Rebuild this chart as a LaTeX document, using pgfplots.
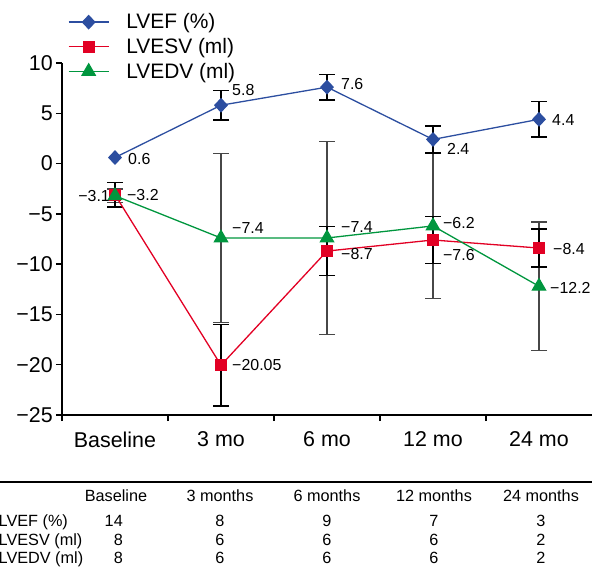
\documentclass[border=0pt]{standalone}
\usepackage{fontspec}
\setmainfont{Liberation Sans}
\usepackage{pgfplots}
\pgfplotsset{compat=1.18}

\definecolor{efblue}{RGB}{44,78,160}
\definecolor{esred}{RGB}{226,0,36}
\definecolor{edgreen}{RGB}{0,150,62}
\newcommand{\lbl}{\fontsize{16}{18}\selectfont}
\newcommand{\tab}{\fontsize{16.3}{18}\selectfont}

\pgfplotsset{
  ebar/.style={draw=none, mark=none, forget plot,
    error bars/.cd, y dir=both, y explicit,
    error bar style={line width=1.5bp, draw=#1},
    error mark options={rotate=90, mark size=8bp, line width=1.5bp, draw=#1}},
}

\begin{document}
\begin{tikzpicture}
\useasboundingbox (0,0) rectangle (592bp,569bp);
\begin{axis}[
  at={(62bp,154bp)}, anchor=south west,
  scale only axis, width=530bp, height=352bp,
  xmin=-0.5, xmax=4.5, ymin=-25, ymax=10,
  clip=false,
  axis x line=bottom, axis y line=left,
  axis line style={-, line width=1.3bp},
  tick align=outside, major tick length=6bp,
  tick style={line width=1.3bp, black},
  ytick={-25,-20,...,10},
  yticklabels={−25,−20,−15,−10,−5,0,5,10},
  xtick={-0.5,0.5,1.5,2.5,3.5},
  xticklabels={},
  extra x ticks={0,1,2,3,4},
  extra x tick labels={Baseline,3 mo,6 mo,12 mo,24 mo},
  extra x tick style={major tick length=0pt},
  ticklabel style={font=\fontsize{21.5}{25}\selectfont},
  yticklabel style={inner sep=3bp},
  xticklabel style={yshift=-13bp},
  legend style={at={(0.011,1.146)}, anchor=north west, draw=none, fill=none,
    row sep=4bp, column sep=15bp, inner sep=0pt,
    nodes={inner sep=2bp, font=\fontsize{21}{24}\selectfont}},
  legend cell align=left,
  legend image code/.code={\draw[#1, mark repeat=2, mark phase=2]
    plot coordinates {(0bp,0bp) (20bp,0bp) (40bp,0bp)};},
]

% error bars: LVEDV, LVESV, LVEF
\addplot[ebar=black!72] coordinates {
  (0,-3.2) +- (0,0.65)
  (1,-7.4) +- (0,8.4)
  (2,-7.4) +- (0,9.6)
  (3,-6.2) +- (0,7.2)
  (4,-12.2) +- (0,6.4)
};
\addplot[ebar=black] coordinates {
  (0,-3.1) +- (0,1.2)
  (1,-20.05) +- (0,4.05)
  (2,-8.7) +- (0,2.45)
  (3,-7.6) +- (0,2.35)
  (4,-8.4) +- (0,1.9)
};
\addplot[ebar=black] coordinates {
  (1,5.8) +- (0,1.45)
  (2,7.6) +- (0,1.28)
  (3,2.4) +- (0,1.33)
  (4,4.4) +- (0,1.78)
};

\addplot[efblue, line width=1.3bp, mark=diamond*, mark size=6.5bp,
  mark options={solid, xscale=1.25, fill=efblue}] coordinates {
  (0,0.6) (1,5.8) (2,7.6) (3,2.4) (4,4.4)
};
\addplot[esred, line width=1.3bp, mark=square*, mark size=5.5bp,
  mark options={solid, fill=esred}] coordinates {
  (0,-3.1) (1,-20.05) (2,-8.7) (3,-7.6) (4,-8.4)
};
\addplot[edgreen, line width=1.3bp, mark=triangle*, mark size=7.5bp,
  mark options={solid, fill=edgreen}] coordinates {
  (0,-3.2) (1,-7.4) (2,-7.4) (3,-6.2) (4,-12.2)
};
\legend{LVEF (\%), LVESV (ml), LVEDV (ml)}

\begin{scope}[every node/.style={font=\lbl, inner sep=0pt, anchor=west}]
\node at (axis cs:0.123,0.46) {0.6};
\node at (axis cs:1.104,7.32) {5.8};
\node at (axis cs:2.132,7.91) {7.6};
\node at (axis cs:3.132,1.45) {2.4};
\node at (axis cs:4.123,4.34) {4.4};
\node[anchor=east] at (axis cs:-0.047,-3.22) {−3.1};
\node at (axis cs:0.113,-3.12) {−3.2};
\node at (axis cs:1.104,-6.40) {−7.4};
\node at (axis cs:1.104,-20.03) {−20.05};
\node at (axis cs:2.132,-6.30) {−7.4};
\node at (axis cs:2.132,-8.99) {−8.7};
\node at (axis cs:3.094,-5.91) {−6.2};
\node at (axis cs:3.094,-9.09) {−7.6};
\node at (axis cs:4.132,-8.49) {−8.4};
\node at (axis cs:4.104,-12.37) {−12.2};
\end{scope}
\end{axis}

% table under the chart
\draw[line width=1.5bp] (0bp,87bp) -- (592bp,87bp);
\begin{scope}[every node/.style={font=\tab, inner sep=0pt, anchor=base}]
\node at (116bp,67.6bp) {Baseline};
\node at (220bp,67.6bp) {3 months};
\node at (327bp,67.6bp) {6 months};
\node at (434bp,67.6bp) {12 months};
\node at (541bp,67.6bp) {24 months};
\node[anchor=base west] at (-1.5bp,42.6bp) {LVEF (\%)};
\node[anchor=base west] at (-1.5bp,23.6bp) {LVESV (ml)};
\node[anchor=base west] at (-1.5bp,5.6bp) {LVEDV (ml)};
\node[anchor=base east] at (123bp,42.6bp) {14};
\node[anchor=base east] at (123bp,23.6bp) {8};
\node[anchor=base east] at (123bp,5.6bp) {8};
\node at (220bp,42.6bp) {8};
\node at (220bp,23.6bp) {6};
\node at (220bp,5.6bp) {6};
\node at (327bp,42.6bp) {9};
\node at (327bp,23.6bp) {6};
\node at (327bp,5.6bp) {6};
\node at (434bp,42.6bp) {7};
\node at (434bp,23.6bp) {6};
\node at (434bp,5.6bp) {6};
\node at (541bp,42.6bp) {3};
\node at (541bp,23.6bp) {2};
\node at (541bp,5.6bp) {2};
\end{scope}
\end{tikzpicture}
\end{document}
